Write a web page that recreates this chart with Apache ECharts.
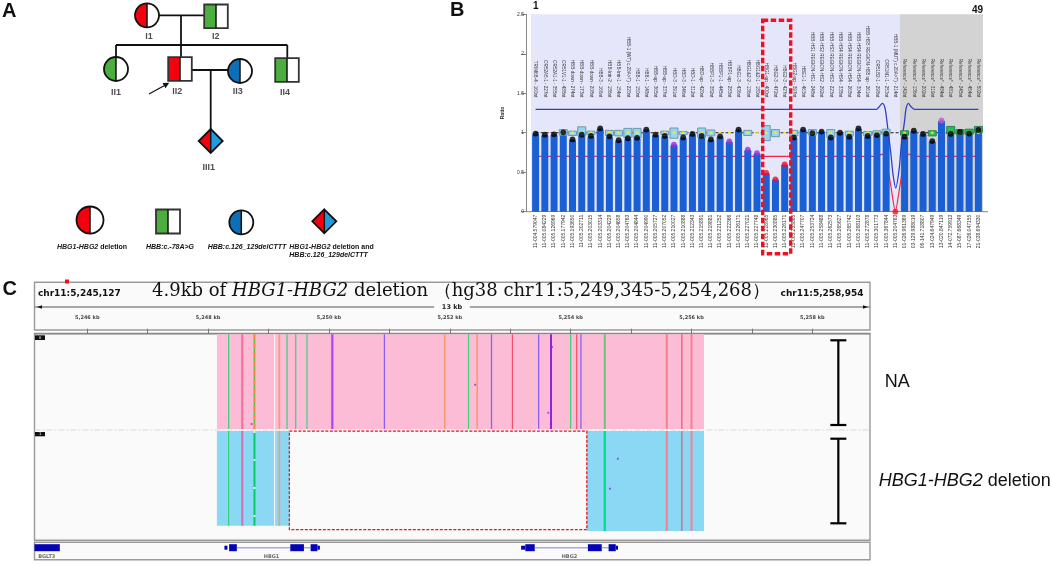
<!DOCTYPE html>
<html>
<head>
<meta charset="utf-8">
<style>html,body{margin:0;padding:0;background:#fff}#c{width:1052px;height:564px}</style>
<script src="https://cdn.jsdelivr.net/npm/echarts@6/dist/echarts.min.js"></script>
</head>
<body>
<div id="c"></div>
<script>
/* ---------- Panel B : MLPA ratio chart ---------- */
const probeNames = ["TRIM6B-4 - 160nt","OR52A5-1 - 227nt","OR52A1-1 - 355nt","OR51V1-1 - 488nt","HBB-down - 274nt","HBB-down - 173nt","HBB-down - 208nt","HBB-3 - 166nt","HBB-Intr-2 - 186nt","HBB-Intr-1 - 154nt","HBB-1 (WT) c.20A>T) - 220nt","HBB-1 - 150nt","HBB-1 - 148nt","HBB-up - 365nt","HBB-up - 337nt","HBD-3 - 391nt","HBD-3 - 346nt","HBD-1 - 312nt","HBD-up - 420nt","HBBP1-3 - 382nt","HBBP1-1 - 445nt","HBBP1-up - 283nt","HBG1-3 - 436nt","HBG1&2-2 - 136nt","HBG1&2-1 - 180nt","HBG1-up - 400nt","HBG2-3 - 472nt","HBG2-3 - 427nt","HBG2-up - 397nt","HBE1-1 - 463nt","HBB-HS1 REGION-HS1 - 248nt","HBB-HS2 REGION-HS2 - 292nt","HBB-HS3 REGION-HS3 - 223nt","HBB-HS4 REGION-HS4 - 338nt","HBB-HS4 REGION-HS4 - 268nt","HBB-HS4 REGION-HS4 - 304nt","HBB-HS5 REGION-HS5 up - 261nt","OR51B2-1 - 298nt","OR51M1-1 - 253nt","HBB-1 (MUT) c.20A>T) - 214nt","Reference* - 142nt","Reference* - 136nt","Reference* - 202nt","Reference* - 319nt","Reference* - 484nt","Reference* - 481nt","Reference* - 245nt","Reference* - 454nt","Reference* - 502nt"];
const probePositions = ["11-004.579047","11-005.084229","11-005.126969","11-005.177942","11-005.193650","11-005.202711","11-005.203015","11-005.203314","11-005.204229","11-005.204658","11-005.204763","11-005.204844","11-005.204990","11-005.205727","11-005.207052","11-005.210027","11-005.210888","11-005.212343","11-005.215891","11-005.219881","11-005.221252","11-005.222366","11-005.226171","11-005.227021","11-005.227748","11-005.228965","11-005.230885","11-005.226171","11-005.233865","11-005.247707","11-005.253724","11-005.258488","11-005.262573","11-005.265627","11-005.265742","11-005.268103","11-005.272878","11-005.301773","11-005.367844","11-005.204763","01-026.961369","03-129.988019","06-141.718807","13-024.647949","13-020.847119","14-072.759913","15-087.668349","17-026.047155","21-038.694330"];
const ratios = [.99,.975,.98,1.005,.915,.975,.96,1.055,.955,.905,.93,.935,1.04,.975,.96,.85,.94,.985,.96,.915,.955,.89,1.04,.785,.74,.49,.41,.6,.94,1.04,.995,1.015,.94,1.0,.95,1.055,.96,.97,.99,0,.95,1.025,.985,.895,1.155,.985,1.01,.99,1.035];
const boxLow  = [null,null,null,.97,.965,.96,.975,null,.965,.96,.94,.94,null,.99,.975,.93,.975,null,.94,.96,.99,.99,null,.965,.99,.9,.95,.99,.96,null,.97,null,.94,null,.955,null,.96,.97,.98,null,.97,null,null,.96,null,.985,.98,.98,1.005];
const boxHigh = [null,null,null,1.04,1.02,1.075,1.02,null,1.03,1.03,1.055,1.055,null,1.01,1.02,1.06,1.015,null,1.06,1.035,1.01,1.01,null,1.03,1.01,1.09,1.04,1.01,1.03,null,1.04,null,1.04,null,1.02,null,1.015,1.025,1.045,null,1.025,null,null,1.025,null,1.08,1.04,1.045,1.08];
const dotState = [0,0,0,0,0,0,0,0,0,0,0,0,0,0,0,1,0,0,0,0,0,1,0,1,1,2,2,2,0,0,0,0,0,0,0,0,0,0,0,2,0,0,0,0,3,0,0,0,0];
const dotColors = ["#000000","#9a2fd6","#ee1030","#d850d0"];
const upperLimit = [[1,1.296],[37.95,1.296],[38.25,1.33],[38.6,1.372],[38.9,1.3],[39.2,1.03],[39.5,.75],[39.75,.47],[40.04,.3],[40.4,.53],[40.65,.85],[41,1.15],[41.15,1.3],[41.4,1.372],[41.7,1.33],[42.1,1.296],[49,1.296]];
const lowerLimit = [[1.2,.7],[38,.7],[38.55,.73],[39,.66],[39.5,.33],[40,0],[40.5,.33],[41,.66],[41.45,.73],[42,.7],[49,.7]];

/* ---------- Panel A : pedigree ---------- */
const nodeNames  = ["I1","I2","II1","II2","II3","II4","III1"];
const nodeX      = [147,216,116,180,240,287,210.7];
const nodeY      = [15.3,16.3,69,69,71,70,141];
const nodeShape  = ["c","s","c","s","c","s","d"];
const nodeLeft   = ["red","green","green","red","blue","green","red"];
const nodeRight  = ["white","white","white","white","white","white","sky"];
const nodeLabelX = [149,215.7,116,177.3,237.7,285,208.7];
const nodeLabelY = [37,37,93,91.3,91.3,93,167.3];
const legendX    = [90,168,241.3,324.3];
const legendY    = [220,221.5,222.3,221.3];
const legendShape= ["c","s","c","d"];
const legendLeft = ["red","green","blue","red"];
const legendRight= ["white","white","white","sky"];
const pedigreeLinks = [[159,15.3,204,15.3],[181,15.3,181,57.3],[116,45,287.3,45],[116,45,116,57],[287.3,45,287.3,58],[192,70,228,70],[210.7,70,210.7,129.5]];
const probandArrow = [149,94,164,85.7];

/* ---------- Panel C : IGV view (kb on chr11) ---------- */
const viewStart = 5245.127, viewEnd = 5258.954, delStart = 5249.345, delEnd = 5254.268, readStart = 5248.146, readEnd = 5256.207;
const rulerTicks = [5246,5247,5248,5249,5250,5251,5252,5253,5254,5255,5256,5257,5258];
const rulerLabels = [5246,5248,5250,5252,5254,5256,5258];
const pinkVariantKb  = [5248.34,5248.565,5248.767,5248.767,5249.1,5249.18,5249.306,5249.45,5249.636,5250.056,5250.918,5251.916,5252.31,5252.454,5252.69,5253.036,5253.47,5253.675,5254.0,5254.1,5254.17,5254.565,5255.59,5255.84,5256.0];
const pinkVariantKind= ["g","h","m","n","w","o","g","g","g","V","b","o","g","o","b","r","b","D","g","r","b","l","c","r","c"];
const blueVariantKb  = [5248.34,5248.565,5248.767,5248.767,5249.1,5249.18,5254.565,5255.59,5255.84,5256.0];
const blueVariantKind= ["g","q","M","N","w","o","G","c","r","c"];
const readDotKb = [5252.42,5248.72,5253.69,5253.63,5253.67,5254.78,5254.65];
const readDotY  = [51,90.3,13.3,79,90.3,125,155];
const geneExons = [[5245.127,5245.546,2],[5248.27,5248.32,1],[5248.348,5248.476,2],[5248.476,5249.36,0],[5249.36,5249.586,2],[5249.586,5249.697,0],[5249.697,5249.81,2],[5249.81,5249.85,1],[5253.18,5253.25,1],[5253.25,5253.406,2],[5253.406,5254.285,0],[5254.285,5254.515,2],[5254.515,5254.628,0],[5254.628,5254.746,2],[5254.746,5254.784,1]];
const geneNames = ["BGLT3","HBG1","HBG2"];
const geneLabelKb = [5245.33,5249.05,5253.98];
const bracketKb = [5258.43,5258.43];
const bracketTop = [6.6,105];
const bracketBottom = [91.3,189.6];

const shapeColors = {red:"#f5000f",green:"#4cae3f",blue:"#0d6fb8",sky:"#1f9be0",white:"#ffffff"};
const variantStyles = {g:["#38d27a",1.2],h:["#f9709c",2.2],m:["#4fc04a",1.6],n:["#f59030",1.6,[5,4]],w:["#fff0f6",1.2],o:["#f59a70",1.6],V:["#b040f0",2.2],b:["#8a60f0",1.3],r:["#f4506c",1.2],D:["#8a10e0",1.8],l:["#70c080",2],c:["#f47f90",2],q:["#d070b0",2],M:["#00d060",2],N:["#e8f8ff",2,[2,26]],G:["#00e090",2.4]};

function halfShape(x,y,r,shape,left,right){
  const L=shapeColors[left],R=shapeColors[right],st={stroke:"#111",lineWidth:1.8,fill:null},ch=[];
  if(shape==="c"){
    ch.push({type:"circle",shape:{cx:x,cy:y,r},style:{fill:R}});
    ch.push({type:"sector",shape:{cx:x,cy:y,r,r0:0,startAngle:Math.PI/2,endAngle:Math.PI*1.5,clockwise:true},style:{fill:L}});
    ch.push({type:"circle",shape:{cx:x,cy:y,r},style:st});
  }else if(shape==="s"){
    ch.push({type:"rect",shape:{x:x-r,y:y-r,width:2*r,height:2*r},style:{fill:R}});
    ch.push({type:"rect",shape:{x:x-r,y:y-r,width:r,height:2*r},style:{fill:L}});
    ch.push({type:"rect",shape:{x:x-r,y:y-r,width:2*r,height:2*r},style:{fill:null,stroke:"#333",lineWidth:1.8}});
  }else{
    ch.push({type:"polygon",shape:{points:[[x,y-r],[x+r,y],[x,y+r]]},style:{fill:R}});
    ch.push({type:"polygon",shape:{points:[[x,y-r],[x-r,y],[x,y+r]]},style:{fill:L}});
    ch.push({type:"polygon",shape:{points:[[x,y-r],[x+r,y],[x,y+r],[x-r,y]]},style:st});
  }
  ch.push({type:"line",shape:{x1:x,y1:y-r,x2:x,y2:y+r},style:{stroke:"#111",lineWidth:1.5}});
  return {type:"group",children:ch};
}
function frame(x,y,w,h,fill){return {type:"rect",shape:{x,y,width:w,height:h},style:{fill:fill||"#fafafa",stroke:"#9a9a9a",lineWidth:1.4},z:0};}
function txt(x,y,text,font,extra){return {type:"text",x,y,z:60,style:Object.assign({text,font,fill:"#111",textVerticalAlign:"middle"},extra||{})};}
const sans='"Liberation Sans",Arial,sans-serif';
const boldIt={fontFamily:"Liberation Sans",fontWeight:"bold",fontStyle:"italic",fontSize:7,fill:"#222",color:"#222"};
const serif="'DejaVu Serif'";

const chart=echarts.init(document.getElementById("c"),null,{renderer:"canvas"});
const cats=ratios.map((_,i)=>i);
chart.setOption({
  animation:false,
  backgroundColor:"#ffffff",
  grid:[
    {left:0,top:0,width:1052,height:564,show:false},
    {left:531,top:14.3,width:452,height:197.4,show:false},
    {left:34.5,top:333.7,width:835.5,height:206.6,show:false}
  ],
  xAxis:[
    {gridIndex:0,type:"value",min:0,max:1052,show:false},
    {gridIndex:1,type:"category",data:probePositions,position:"bottom",
      axisLine:{lineStyle:{color:"#888"}},axisTick:{show:false},
      axisLabel:{interval:0,rotate:90,fontSize:5,color:"#333",margin:3,fontFamily:"Liberation Sans",hideOverlap:false}},
    {gridIndex:1,type:"category",data:probeNames,position:"top",offset:-83,
      axisLine:{show:false},axisTick:{show:false},
      axisLabel:{interval:0,rotate:90,fontSize:4.6,color:"#333",margin:0,fontFamily:"Liberation Sans",hideOverlap:false}},
    {gridIndex:1,type:"value",min:.5,max:49.5,show:false},
    {gridIndex:2,type:"value",min:viewStart,max:viewEnd,position:"top",offset:8,splitLine:{show:false},
      axisLine:{lineStyle:{color:"#888",width:1.4}},
      axisTick:{length:5,lineStyle:{color:"#777"},customValues:rulerTicks},
      axisLabel:{fontSize:5,color:"#444",fontWeight:"bold",margin:5.5,fontFamily:"DejaVu Sans",customValues:rulerLabels,
        formatter:v=>String(Math.round(v)).replace(/^(\d)(\d{3})$/,"$1,$2")+" kb"}}
  ],
  yAxis:[
    {gridIndex:0,type:"value",min:0,max:564,inverse:true,show:false},
    {gridIndex:1,type:"value",min:0,max:2.5,interval:.5,offset:5,splitLine:{show:false},
      name:"Ratio",nameLocation:"middle",nameGap:21,nameTextStyle:{fontSize:5,fontWeight:"bold",color:"#222",fontFamily:"Liberation Sans"},
      axisLine:{show:true,lineStyle:{color:"#888"}},axisTick:{show:true,length:5,lineStyle:{color:"#888"}},
      axisLabel:{fontSize:5,color:"#333",margin:2,fontFamily:"Liberation Sans"}},
    {gridIndex:2,type:"value",min:0,max:206.6,inverse:true,show:false}
  ],
  graphic:{elements:[
    frame(34.5,282.3,835.5,47.7),
    frame(34.5,333.7,835.5,206.6),
    frame(34.5,542.3,835.5,17.4),
    {type:"line",shape:{x1:34.5,y1:307,x2:434,y2:307},style:{stroke:"#8a8a8a",lineWidth:1.6},z:3},
    {type:"line",shape:{x1:470,y1:307,x2:870,y2:307},style:{stroke:"#8a8a8a",lineWidth:1.6},z:3},
    {type:"polygon",shape:{points:[[37,307],[42,305.3],[42,308.7]]},style:{fill:"#111"},z:4},
    {type:"polygon",shape:{points:[[868,307],[863,305.3],[863,308.7]]},style:{fill:"#111"},z:4},
    {type:"line",shape:{x1:983,y1:211.7,x2:988,y2:211.7},style:{stroke:"#888",lineWidth:1},z:4},
    {type:"line",shape:{x1:526,y1:211.7,x2:531,y2:211.7},style:{stroke:"#888",lineWidth:1},z:4},
    {type:"rect",shape:{x:65,y:279.5,width:4,height:4},style:{fill:"#ee1111"},z:5},
    {type:"rect",shape:{x:35,y:335.3,width:10,height:4.7},style:{fill:"#111"},z:5},
    {type:"rect",shape:{x:35,y:432,width:10,height:4.3},style:{fill:"#111"},z:5},
    txt(39,337.7,"0","4px "+sans,{fill:"#fff"}),
    txt(39,434.2,"1","4px "+sans,{fill:"#fff"}),
    {type:"rect",shape:{x:762.7,y:20.3,width:28,height:233.5},style:{fill:null,stroke:"#f01020",lineWidth:3.4,lineDash:[5.5,2.5]},z:50},
    txt(2,11,"A","bold 20px "+sans),
    txt(450,10,"B","bold 20px "+sans),
    txt(2.5,289,"C","bold 20px "+sans),
    txt(533,6,"1","bold 10px "+sans),
    txt(972,10,"49","bold 10px "+sans),
    txt(57,247.3,"{i|HBG1-HBG2}{b| deletion}","7px "+sans,{rich:{i:boldIt,b:{fontFamily:"Liberation Sans",fontWeight:"bold",fontSize:7}}}),
    txt(146,247.3,"HBB:c.-78A>G","italic bold 7px "+sans),
    txt(207.7,247.3,"HBB:c.126_129delCTTT","italic bold 7px "+sans),
    txt(289.3,247.3,"{i|HBG1-HBG2}{b| deletion and}","7px "+sans,{rich:{i:boldIt,b:{fontFamily:"Liberation Sans",fontWeight:"bold",fontSize:7}}}),
    txt(289.3,255.3,"HBB:c.126_129delCTTT","italic bold 7px "+sans),
    txt(37.9,293.3,"chr11:5,245,127","bold 9px 'DejaVu Sans'"),
    txt(780.6,293.3,"chr11:5,258,954","bold 9px 'DejaVu Sans'"),
    txt(452,307,"13 kb","bold 6.5px 'DejaVu Sans'",{textAlign:"center",fill:"#222"}),
    txt(152,291.7,"{n|4.9kb of }{i|HBG1-HBG2}{n| deletion （hg38 chr11:5,249,345-5,254,268）}","18px "+serif,
      {rich:{n:{fontFamily:"DejaVu Serif",fontSize:18,fill:"#111"},i:{fontFamily:"DejaVu Serif",fontStyle:"italic",fontSize:18,fill:"#111"}}}),
    txt(884.7,382.3,"NA","18px "+sans),
    txt(878.7,481,"{i|HBG1-HBG2}{n| deletion}","18px "+sans,{rich:{i:{fontFamily:"Liberation Sans",fontStyle:"italic",fontSize:18,fill:"#111"},n:{fontFamily:"Liberation Sans",fontSize:18,fill:"#111"}}})
  ]},
  series:[
    /* ---- panel B ---- */
    {name:"background",type:"line",xAxisIndex:3,yAxisIndex:1,data:[],z:0,silent:true,
      markArea:{silent:true,z:0,data:[
        [{xAxis:.5,yAxis:0,itemStyle:{color:"#e6e6fb"}},{xAxis:40.5,yAxis:2.5}],
        [{xAxis:40.5,yAxis:0,itemStyle:{color:"#d3d3d3"}},{xAxis:49.5,yAxis:2.5}]]}},
    {name:"reference",type:"line",xAxisIndex:1,yAxisIndex:1,data:cats.map(()=>1),symbol:"none",z:1,silent:true,
      lineStyle:{color:"#222",width:1,type:[3,2]}},
    {name:"lower",type:"line",xAxisIndex:3,yAxisIndex:1,data:lowerLimit,smooth:.2,symbol:"none",z:1,silent:true,
      lineStyle:{color:"#f02a48",width:1.2}},
    {name:"ratio",type:"bar",xAxisIndex:1,yAxisIndex:1,data:ratios,barWidth:7,z:2,silent:true,
      itemStyle:{color:"#1a5fd3",borderRadius:[1.5,1.5,0,0]}},
    {name:"upper",type:"line",xAxisIndex:3,yAxisIndex:1,data:upperLimit,smooth:.3,symbol:"none",z:3,silent:true,
      lineStyle:{color:"#2f3fd0",width:1.3}},
    {name:"spread",type:"custom",xAxisIndex:1,yAxisIndex:1,z:4,silent:true,clip:false,
      data:cats.map(i=>[i,boxLow[i],boxHigh[i]]).filter(d=>d[1]!==null),encode:{x:0,y:[1,2]},
      renderItem:(p,api)=>{
        const i=api.value(0),lo=api.value(1),hi=api.value(2);
        if(hi-lo<.03) return null;
        const a=api.coord([i,hi]),b=api.coord([i,lo]),w=8,ref=i>=40;
        return {type:"rect",shape:{x:a[0]-w/2,y:a[1],width:w,height:b[1]-a[1]},
          style:{fill:ref?"#1fc05a":"#93d6f2",stroke:ref?"#3a7a55":"#6f98aa",lineWidth:1}};
      }},
    {name:"mean",type:"scatter",xAxisIndex:1,yAxisIndex:1,z:5,silent:true,symbolSize:3,
      data:cats.filter(i=>boxLow[i]!==null).map(i=>[i,1]),itemStyle:{color:"#ffee10"}},
    {name:"dots",type:"scatter",xAxisIndex:1,yAxisIndex:1,z:6,silent:true,symbolSize:5.8,clip:false,
      data:cats.map(i=>({value:[i,ratios[i]],itemStyle:{color:dotColors[dotState[i]]}}))},

    /* ---- panel A ---- */
    {name:"links",type:"custom",xAxisIndex:0,yAxisIndex:0,z:10,silent:true,clip:false,data:pedigreeLinks,encode:{x:0,y:1},
      renderItem:(p,api)=>{
        const a=api.coord([api.value(0),api.value(1)]),b=api.coord([api.value(2),api.value(3)]);
        return {type:"line",shape:{x1:a[0],y1:a[1],x2:b[0],y2:b[1]},style:{stroke:"#111",lineWidth:1.8}};
      }},
    {name:"arrow",type:"custom",xAxisIndex:0,yAxisIndex:0,z:10,silent:true,clip:false,data:[probandArrow],encode:{x:0,y:1},
      renderItem:(p,api)=>{
        const a=api.coord([api.value(0),api.value(1)]),b=api.coord([api.value(2),api.value(3)]);
        const t=Math.atan2(b[1]-a[1],b[0]-a[0]),L=6,W=3;
        const n=[b[0]+L*Math.cos(t),b[1]+L*Math.sin(t)];
        return {type:"group",children:[
          {type:"line",shape:{x1:a[0],y1:a[1],x2:b[0],y2:b[1]},style:{stroke:"#111",lineWidth:1.2}},
          {type:"polygon",shape:{points:[n,[b[0]-W*Math.sin(t),b[1]+W*Math.cos(t)],[b[0]+W*Math.sin(t),b[1]-W*Math.cos(t)]]},style:{fill:"#111"}}]};
      }},
    {name:"nodes",type:"custom",xAxisIndex:0,yAxisIndex:0,z:11,silent:true,clip:false,
      data:nodeX.map((x,i)=>[x,nodeY[i],i]),encode:{x:0,y:1},
      renderItem:(p,api)=>{
        const i=api.value(2),c=api.coord([api.value(0),api.value(1)]);
        return halfShape(c[0],c[1],nodeShape[i]==="s"?11.8:12,nodeShape[i],nodeLeft[i],nodeRight[i]);
      }},
    {name:"legendNodes",type:"custom",xAxisIndex:0,yAxisIndex:0,z:11,silent:true,clip:false,
      data:legendX.map((x,i)=>[x,legendY[i],i]),encode:{x:0,y:1},
      renderItem:(p,api)=>{
        const i=api.value(2),c=api.coord([api.value(0),api.value(1)]);
        return halfShape(c[0],c[1],i===0?13.5:12,legendShape[i],legendLeft[i],legendRight[i]);
      }},
    {name:"nodeLabels",type:"scatter",xAxisIndex:0,yAxisIndex:0,z:12,silent:true,symbolSize:0,clip:false,
      data:nodeNames.map((n,i)=>({name:n,value:[nodeLabelX[i],nodeLabelY[i]]})),
      label:{show:true,position:"inside",formatter:"{b}",fontSize:9,fontWeight:"bold",color:"#222",fontFamily:"Liberation Sans"}},

    /* ---- panel C ---- */
    {name:"reads",type:"custom",xAxisIndex:4,yAxisIndex:2,z:10,silent:true,clip:false,
      data:[[readStart,readEnd,.6,95.3,0],[readStart,delStart,97.3,192,1],[delEnd,readEnd,97.3,197.3,1]],encode:{x:[0,1],y:[2,3]},
      renderItem:(p,api)=>{
        const a=api.coord([api.value(0),api.value(2)]),b=api.coord([api.value(1),api.value(3)]);
        return {type:"rect",shape:{x:a[0],y:a[1],width:b[0]-a[0],height:b[1]-a[1]},style:{fill:api.value(4)?"#8ad8f4":"#fdbcd6"}};
      }},
    {name:"pinkVariants",type:"custom",xAxisIndex:4,yAxisIndex:2,z:11,silent:true,clip:false,
      data:pinkVariantKb.map((k,i)=>[k,i]),encode:{x:0},
      renderItem:(p,api)=>{
        const s=variantStyles[pinkVariantKind[api.value(1)]],a=api.coord([api.value(0),.6]),b=api.coord([api.value(0),95.3]);
        return {type:"line",shape:{x1:a[0],y1:a[1],x2:a[0],y2:b[1]},style:{stroke:s[0],lineWidth:s[1],lineDash:s[2]||null}};
      }},
    {name:"blueVariants",type:"custom",xAxisIndex:4,yAxisIndex:2,z:11,silent:true,clip:false,
      data:blueVariantKb.map((k,i)=>[k,i]),encode:{x:0},
      renderItem:(p,api)=>{
        const k=api.value(0),s=variantStyles[blueVariantKind[api.value(1)]],a=api.coord([k,97.3]),b=api.coord([k,k>5250?197.3:192]);
        return {type:"line",shape:{x1:a[0],y1:a[1],x2:a[0],y2:b[1]},style:{stroke:s[0],lineWidth:s[1],lineDash:s[2]||null}};
      }},
    {name:"readDots",type:"scatter",xAxisIndex:4,yAxisIndex:2,z:12,silent:true,symbol:"rect",symbolSize:1.8,clip:false,
      data:readDotKb.map((k,i)=>[k,readDotY[i]]),itemStyle:{color:"#8a20e0"}},
    {name:"trackDivider",type:"line",xAxisIndex:4,yAxisIndex:2,z:9,silent:true,symbol:"none",
      data:[[viewStart,96.3],[viewEnd,96.3]],lineStyle:{color:"#d8d8d8",width:1,type:[6,2,2,2]}},
    {name:"deletionBox",type:"custom",xAxisIndex:4,yAxisIndex:2,z:13,silent:true,clip:false,
      data:[[delStart,delEnd,97.5,196]],encode:{x:[0,1],y:[2,3]},
      renderItem:(p,api)=>{
        const a=api.coord([api.value(0),api.value(2)]),b=api.coord([api.value(1),api.value(3)]);
        return {type:"rect",shape:{x:a[0],y:a[1],width:b[0]-a[0],height:b[1]-a[1]},style:{fill:null,stroke:"#ee1020",lineWidth:1.3,lineDash:[3,1.5]}};
      }},
    {name:"brackets",type:"custom",xAxisIndex:4,yAxisIndex:2,z:13,silent:true,clip:false,
      data:bracketKb.map((k,i)=>[k,bracketTop[i],bracketBottom[i]]),encode:{x:0,y:[1,2]},
      renderItem:(p,api)=>{
        const a=api.coord([api.value(0),api.value(1)]),b=api.coord([api.value(0),api.value(2)]),s={stroke:"#000",lineWidth:2.2},w=8;
        return {type:"group",children:[
          {type:"line",shape:{x1:a[0],y1:a[1],x2:b[0],y2:b[1]},style:s},
          {type:"line",shape:{x1:a[0]-w,y1:a[1],x2:a[0]+w,y2:a[1]},style:s},
          {type:"line",shape:{x1:b[0]-w,y1:b[1],x2:b[0]+w,y2:b[1]},style:s}]};
      }},
    {name:"genes",type:"custom",xAxisIndex:4,yAxisIndex:2,z:13,silent:true,clip:false,data:geneExons,encode:{x:[0,1]},
      renderItem:(p,api)=>{
        const a=api.coord([api.value(0),214]),b=api.coord([api.value(1),214]),kind=api.value(2),h=kind===2?7:kind===1?4:1.4;
        return {type:"rect",shape:{x:a[0],y:a[1]-h/2,width:b[0]-a[0],height:h},style:{fill:kind===0?"#a8a8ea":"#0404b4"}};
      }},
    {name:"geneLabels",type:"scatter",xAxisIndex:4,yAxisIndex:2,z:13,silent:true,symbolSize:0,clip:false,
      data:geneNames.map((n,i)=>({name:n,value:[geneLabelKb[i],223.5]})),
      label:{show:true,position:"inside",formatter:"{b}",fontSize:5,fontWeight:"bold",color:"#444",fontFamily:"DejaVu Sans"}}
  ]
});
</script>
</body>
</html>
